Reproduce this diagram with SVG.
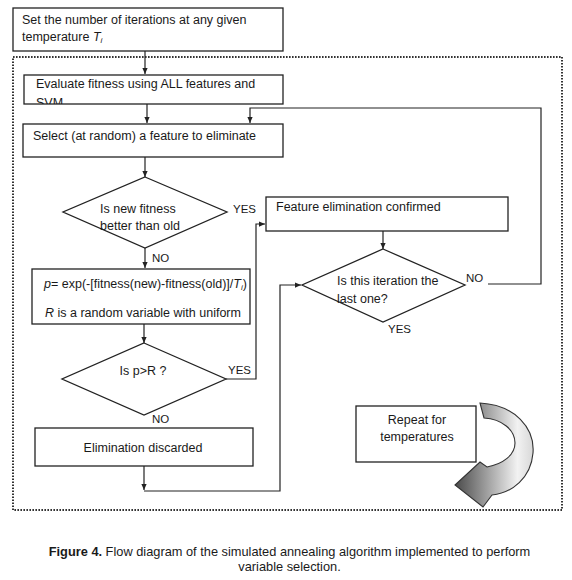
<svg xmlns="http://www.w3.org/2000/svg" width="572" height="580" viewBox="0 0 572 580">
<style>
text{font-family:"Liberation Sans",Arial,sans-serif;font-size:12.5px;fill:#1a1a1a}
.lbl{font-size:11.5px}
.box{fill:#fff;stroke:#222;stroke-width:1.3}
.con{fill:none;stroke:#222;stroke-width:1.2}
.cap{font-size:12.8px;text-anchor:middle}
</style>
<defs>
<marker id="ah" viewBox="0 0 8 8" refX="8" refY="4" markerWidth="6" markerHeight="6" orient="auto" markerUnits="userSpaceOnUse">
<path d="M0,0.5 L8,4 L0,7.5 Z" fill="#222"/>
</marker>
<linearGradient id="gr" x1="0" y1="0" x2="1" y2="0">
<stop offset="0" stop-color="#4a4a4a"/>
<stop offset="0.45" stop-color="#a8a8a8"/>
<stop offset="0.8" stop-color="#f2f2f2"/>
<stop offset="1" stop-color="#d8d8d8"/>
</linearGradient>
<clipPath id="evclip"><rect x="24" y="75" width="259" height="29"/></clipPath>
</defs>
<rect x="13" y="57" width="549" height="453" fill="none" stroke="#333" stroke-width="2" stroke-dasharray="1.6 1.4"/>
<g id="connectors">
<path class="con" d="M145,51 V74" marker-end="url(#ah)"/>
<path class="con" d="M147,104 V123" marker-end="url(#ah)"/>
<path class="con" d="M145,157 V177" marker-end="url(#ah)"/>
<path class="con" d="M145,248 V268" marker-end="url(#ah)"/>
<path class="con" d="M144,324 V343" marker-end="url(#ah)"/>
<path class="con" d="M226,379 H256 V224 H265" marker-end="url(#ah)"/>
<path class="con" d="M144,466 V490" marker-end="url(#ah)"/>
<path class="con" d="M144,491 H280 V285 H301" marker-end="url(#ah)"/>
<path class="con" d="M383,231 V249" marker-end="url(#ah)"/>
<path class="con" d="M488,284 H541 V108 H250 V123" marker-end="url(#ah)"/>
</g>
<g id="n-settemp">
<rect class="box" x="13" y="8" width="270" height="43"/>
<text x="22" y="24">Set the number of iterations at any given</text>
<text x="22" y="41">temperature <tspan font-style="italic">T</tspan><tspan font-style="italic" font-size="8" dy="2">i</tspan></text>
</g>
<g id="n-evaluate">
<rect class="box" x="24" y="75" width="259" height="29"/>
<g clip-path="url(#evclip)">
<text x="36" y="88">Evaluate fitness using ALL features and</text>
<text x="36" y="107">SVM</text>
</g>
</g>
<g id="n-select">
<rect class="box" x="23" y="124" width="260" height="33"/>
<text x="33" y="140">Select (at random) a feature to eliminate</text>
</g>
<g id="n-better">
<path class="box" d="M145,177 L227,212 L145,248 L63,212 Z"/>
<text x="100" y="213">Is new fitness</text>
<text x="100" y="230">better than old</text>
<text class="lbl" x="233" y="213">YES</text>
<text class="lbl" x="152" y="262">NO</text>
</g>
<g id="n-prob">
<rect class="box" x="32" y="269" width="218" height="55"/>
<text x="44" y="288"><tspan font-style="italic">p</tspan>= exp(-[fitness(new)-fitness(old)]/<tspan font-style="italic">T</tspan><tspan font-style="italic" font-size="8" dy="2">i</tspan><tspan dy="-2">)</tspan></text>
<text x="45" y="317"><tspan font-style="italic">R</tspan> is a random variable with uniform</text>
</g>
<g id="n-pR">
<path class="box" d="M144,343 L226,379 L144,415 L62,379 Z"/>
<text x="143" y="375" text-anchor="middle">Is p&gt;R ?</text>
<text class="lbl" x="228" y="374">YES</text>
<text class="lbl" x="152" y="423">NO</text>
</g>
<g id="n-discarded">
<rect class="box" x="35" y="428" width="218" height="38"/>
<text x="143" y="452" text-anchor="middle">Elimination discarded</text>
</g>
<g id="n-confirmed">
<rect class="box" x="266" y="197" width="242" height="34"/>
<text x="276" y="211">Feature elimination confirmed</text>
</g>
<g id="n-last">
<path class="box" d="M383,249 L465,285 L383,322 L302,285 Z"/>
<text x="337" y="285">Is this iteration the</text>
<text x="337" y="303">last one?</text>
<text class="lbl" x="466" y="282">NO</text>
<text class="lbl" x="388" y="333">YES</text>
</g>
<g id="n-repeat">
<rect class="box" x="356" y="406" width="120" height="56"/>
<text x="417" y="424" text-anchor="middle">Repeat for</text>
<text x="417" y="441" text-anchor="middle">temperatures</text>
</g>
<g id="n-curvearrow">
<path d="M480,403 C515,405 535,428 533,453 C531,478 512,493 492,495 L483,507 L455,485 L480,462 L487,467 C503,464 515,455 515,443 C515,430 502,419 484,418 Z" fill="url(#gr)" stroke="#333" stroke-width="1.1"/>
</g>
<text class="cap" x="289.5" y="556"><tspan font-weight="bold">Figure 4.</tspan> Flow diagram of the simulated annealing algorithm implemented to perform</text>
<text class="cap" x="289.5" y="571">variable selection.</text>
</svg>
